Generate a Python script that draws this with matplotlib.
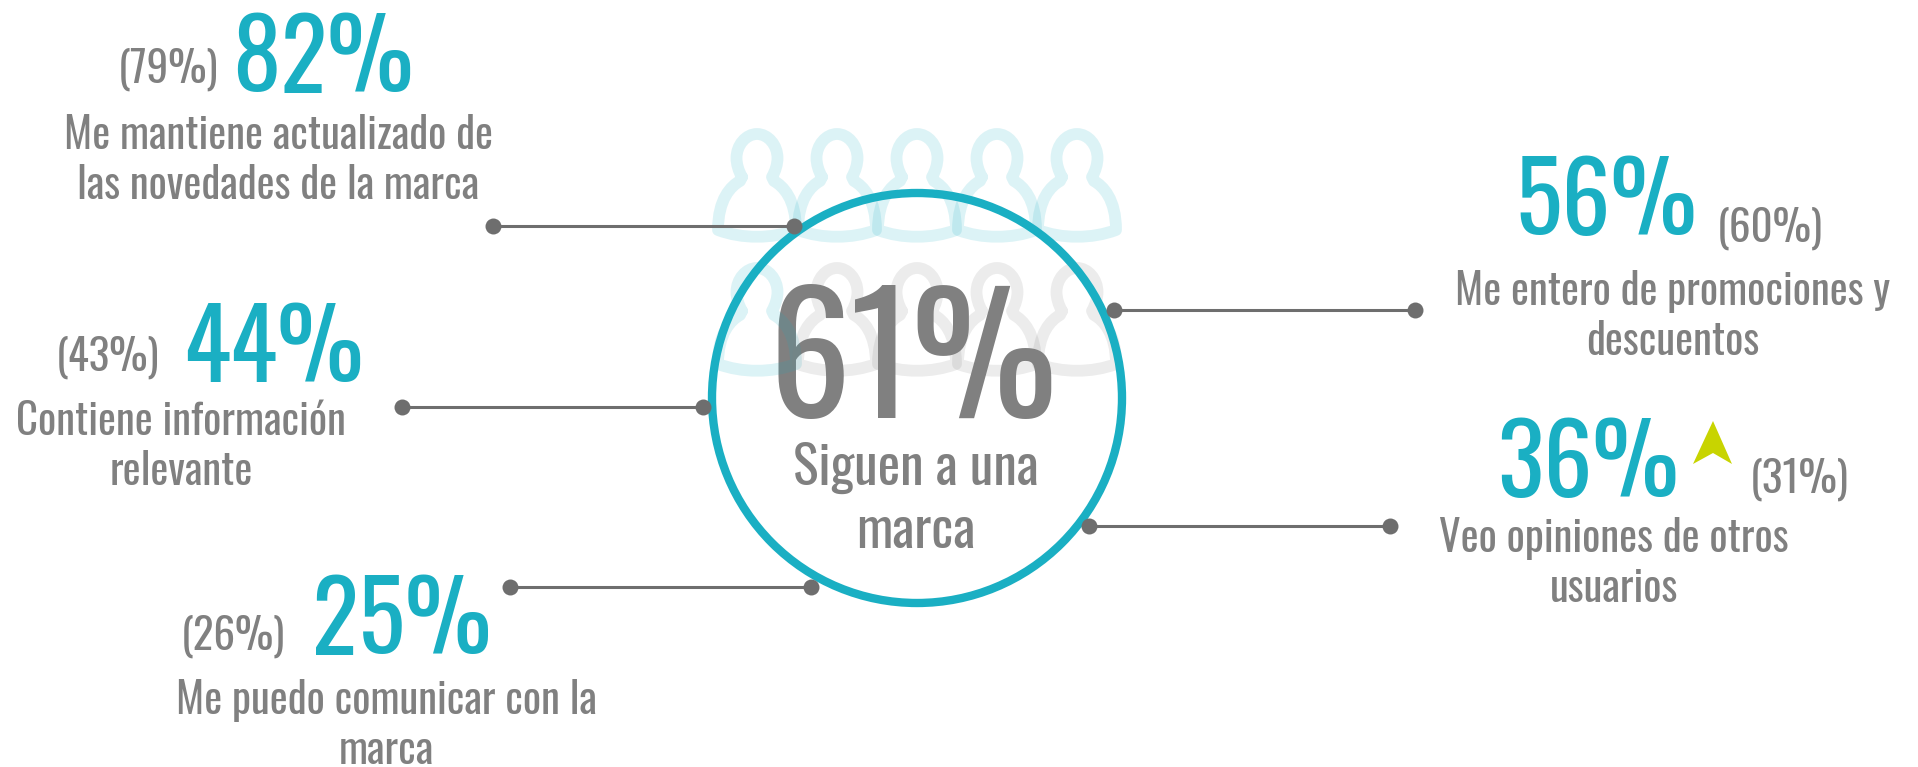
import matplotlib
matplotlib.use('Agg')
import matplotlib.pyplot as plt
from matplotlib.patches import Circle, PathPatch, Polygon
from matplotlib.path import Path
from matplotlib import font_manager as fm

# Valores del grafico
valores = ['82%', '56%', '44%', '36%', '25%']
previos = ['(79%)', '(60%)', '(43%)', '(31%)', '(26%)']
etiquetas = [
    'Me mantiene actualizado de\nlas novedades de la marca',
    'Me entero de promociones y\ndescuentos',
    'Contiene información\nrelevante',
    'Veo opiniones de otros\nusuarios',
    'Me puedo comunicar con la\nmarca',
]
total = '61%'
total_label = ['Siguen a una', 'marca']

# Posiciones en pixeles: (x centro, y base)
pos_valor = [(323, 92), (1606, 235), (273, 382), (1588, 497), (402, 654)]
pos_previo = [(168, 83), (1770, 242), (108, 371), (1799, 493), (233, 650)]
pos_label = [(278, 149), (1673, 305), (181, 435), (1614, 552), (386, 714)]
lineas = [(493, 794, 226), (1114, 1415, 310), (402, 703, 407), (1089, 1390, 526), (510, 811, 587)]

TEAL = '#1AAFC3'
GRIS = '#808080'
LINEA = '#6E6E6E'

nombres = {f.name for f in fm.fontManager.ttflist}
fuente = 'Oswald' if 'Oswald' in nombres else 'Roboto Condensed'
plt.rcParams['font.family'] = [fuente, 'DejaVu Sans']

fig = plt.figure(figsize=(19.18, 7.67), dpi=100)
ax = fig.add_axes([0, 0, 1, 1])
ax.set_xlim(0, 1918)
ax.set_ylim(767, 0)
ax.axis('off')


def persona(cx, cy):
    # silueta de una persona, centrada en la cabeza
    pts = [
        (-15, 19),
        (-18.5, 13), (-20.5, 6), (-20.5, 0),
        (-20.5, -13), (-11, -24), (0, -24),
        (11, -24), (20.5, -13), (20.5, 0),
        (20.5, 6), (18.5, 13), (15, 19),
        (17, 23),
        (26, 28), (39, 41), (39, 72),
        (15, 81), (-15, 81), (-39, 72),
        (-39, 41), (-26, 28), (-17, 23),
        (-15, 19),
    ]
    codes = ([Path.MOVETO] + [Path.CURVE4] * 12 + [Path.LINETO]
             + [Path.CURVE4] * 9 + [Path.LINETO])
    verts = [(cx + x, cy + y) for x, y in pts]
    return Path(verts, codes)


# textos centrales debajo de los iconos
ax.text(913, 418, total, color=GRIS, fontsize=117.5, fontweight=500, ha='center', va='baseline', zorder=2)
ax.text(916, 485, total_label[0], color=GRIS, fontsize=38.5, fontweight=300, ha='center', va='baseline', zorder=2)
ax.text(916, 548, total_label[1], color=GRIS, fontsize=38.5, fontweight=300, ha='center', va='baseline', zorder=2)

for fila, cy in enumerate([158, 292]):
    for i, cx in enumerate([757, 837, 917, 997, 1077]):
        if fila == 0 or i == 0:
            col, alpha = TEAL, 0.15
        else:
            col, alpha = '#808080', 0.15
        ax.add_patch(PathPatch(persona(cx, cy), fill=False, edgecolor=col, alpha=alpha,
                               lw=8.5, joinstyle='round', capstyle='round', zorder=3))

ax.add_patch(Circle((917, 398), 205, fill=False, edgecolor=TEAL, lw=6, zorder=4))

for x0, x1, y in lineas:
    ax.plot([x0, x1], [y, y], color=LINEA, lw=2.2, zorder=5)
    ax.plot([x0, x1], [y, y], 'o', color=LINEA, ms=11.5, mew=0, zorder=6)

for v, (x, y) in zip(valores, pos_valor):
    ax.text(x, y, v, color=TEAL, fontsize=70, ha='center', va='baseline')
for p, (x, y) in zip(previos, pos_previo):
    ax.text(x, y, p, color=GRIS, fontsize=31, fontweight=300, ha='center', va='baseline')
for e, (x, y) in zip(etiquetas, pos_label):
    lin = e.split('\n')
    ax.text(x, y, lin[0], color=GRIS, fontsize=30.8, fontweight=300, ha='center', va='baseline')
    ax.text(x, y + 50, lin[1], color=GRIS, fontsize=30.8, fontweight=300, ha='center', va='baseline')

# flecha verde
ax.add_patch(Polygon([(1713, 421), (1693, 464), (1713, 453), (1732, 464)], closed=True,
                     facecolor='#C8D400', edgecolor='none'))

fig.savefig('out.png', dpi=100)
